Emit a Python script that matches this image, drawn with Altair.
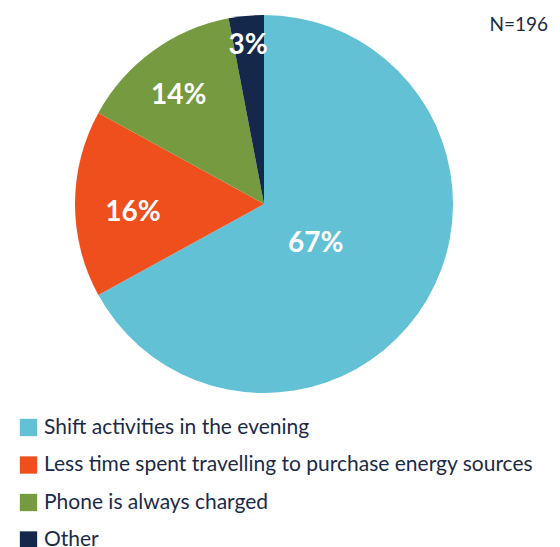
import altair as alt
import pandas as pd

categories = [
    "Shift activities in the evening",
    "Less time spent travelling to purchase energy sources",
    "Phone is always charged",
    "Other",
]
values = [67, 16, 14, 3]
labels = ["67%", "16%", "14%", "3%"]
colors = ["#62C1D5", "#EE4F1D", "#769A3F", "#14284B"]
label_radius = [60, 131, 145, 168]

df = pd.DataFrame({
    "category": categories,
    "value": values,
    "label": labels,
    "order": list(range(len(categories))),
    "lr": label_radius,
})
total = df["value"].sum()
df["mid"] = df["value"].cumsum() - df["value"] / 2

FONT = "Lato"
TEXT = "#1B2B47"
CX, CY, R = 256, 196, 189

pie = alt.Chart(df).mark_arc(outerRadius=R, x=CX, y=CY).encode(
    theta=alt.Theta("value:Q", stack=True),
    order=alt.Order("order:Q"),
    color=alt.Color(
        "category:N",
        scale=alt.Scale(domain=categories, range=colors),
        sort=categories,
        legend=alt.Legend(
            title=None,
            orient="none",
            legendX=10,
            legendY=409,
            symbolType="square",
            symbolSize=300,
            symbolStrokeWidth=0,
            labelFont=FONT,
            labelFontSize=21,
            labelColor=TEXT,
            labelLimit=700,
            labelOffset=5,
            rowPadding=15.5,
            direction="vertical",
        ),
    ),
)

text = alt.Chart(df).mark_text(
    x=CX, y=CY, dy=9, font=FONT, fontSize=28, fontWeight="bold", color="white"
).encode(
    theta=alt.Theta("mid:Q", stack=False,
                    scale=alt.Scale(domain=[0, total], range=[0, 6.283185307179586])),
    text="label:N",
    radius=alt.Radius("lr:Q", scale=None),
)

n_text = alt.Chart(pd.DataFrame({"t": ["N=196"]})).mark_text(
    font=FONT, fontSize=19, color=TEXT, align="right", baseline="middle"
).encode(text="t:N", x=alt.value(540), y=alt.value(17))

chart = alt.layer(pie, text, n_text).properties(
    width=544, height=539, autosize=alt.AutoSizeParams(type="none"), padding=0
).configure_view(stroke=None)

chart.save("out.html", embed_options={"renderer": "svg", "actions": False})
